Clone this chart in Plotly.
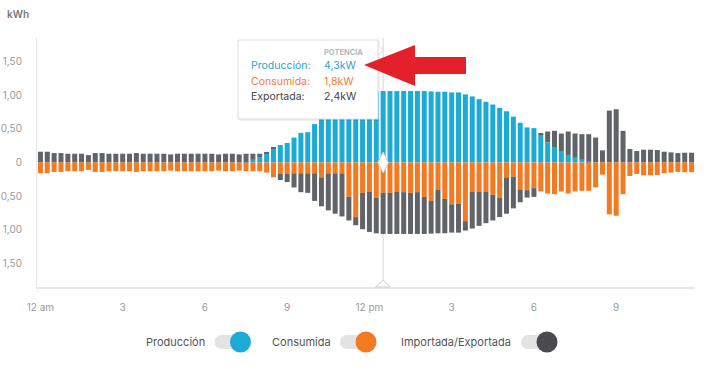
import plotly.graph_objects as go

# 15-minute slots, index 0 = 00:00 ... 95 = 23:45 (kWh per slot)
slots = list(range(96))

produccion = (
    [0] * 12 +
    [0] * 12 +
    [0, 0, 0, 0, 0, 0, 0.01, 0.04, 0.08, 0.14, 0.21, 0.26] +
    [0.29, 0.37, 0.44, 0.45, 0.57, 0.65, 0.71, 0.76, 0.80, 0.86, 0.93, 0.99] +
    [1.03, 1.05, 1.06, 1.06, 1.06, 1.06, 1.06, 1.06, 1.06, 1.055, 1.05, 1.05] +
    [1.04, 1.04, 1.01, 0.98, 0.94, 0.90, 0.86, 0.81, 0.76, 0.68, 0.59, 0.52] +
    [0.51, 0.41, 0.30, 0.23, 0.16, 0.11, 0.07, 0.04, 0.02, 0, 0, 0] +
    [0] * 12
)

consumida = (
    [0.16, 0.16, 0.14, 0.14, 0.13, 0.13, 0.13, 0.11, 0.14, 0.14, 0.13, 0.13] +
    [0.13, 0.13, 0.14, 0.13, 0.13, 0.13, 0.13, 0.12, 0.13, 0.13, 0.13, 0.13] +
    [0.13, 0.13, 0.12, 0.13, 0.13, 0.12, 0.13, 0.13, 0.13, 0.15, 0.22, 0.17] +
    [0.17, 0.16, 0.16, 0.16, 0.16, 0.22, 0.16, 0.16, 0.16, 0.51, 0.81, 0.45] +
    [0.43, 0.52, 0.45, 0.45, 0.43, 0.44, 0.45, 0.44, 0.51, 0.57, 0.40, 0.54] +
    [0.62, 0.61, 0.87, 0.43, 0.43, 0.43, 0.48, 0.52, 0.22, 0.21, 0.40, 0.41] +
    [0.38, 0.43, 0.46, 0.47, 0.43, 0.46, 0.43, 0.42, 0.42, 0.37, 0.18, 0.77] +
    [0.79, 0.47, 0.20, 0.17, 0.19, 0.19, 0.185, 0.16, 0.15, 0.14, 0.145, 0.145]
)

importada = (
    [0.16, 0.16, 0.14, 0.14, 0.13, 0.13, 0.13, 0.11, 0.14, 0.14, 0.13, 0.13] +
    [0.13, 0.13, 0.14, 0.13, 0.13, 0.13, 0.13, 0.12, 0.13, 0.13, 0.13, 0.13] +
    [0.13, 0.13, 0.12, 0.13, 0.13, 0.12, 0.12, 0.09, 0.05, 0.01, 0.01, 0] +
    [0] * 12 +
    [0] * 12 +
    [0] * 12 +
    [0, 0.02, 0.16, 0.24, 0.27, 0.35, 0.36, 0.38, 0.40, 0.37, 0.18, 0.77] +
    [0.79, 0.47, 0.20, 0.17, 0.19, 0.19, 0.185, 0.16, 0.15, 0.14, 0.145, 0.145]
)

exportada = (
    [0] * 12 +
    [0] * 12 +
    [0, 0, 0, 0, 0, 0, 0, 0, 0, 0, 0, 0.09] +
    [0.12, 0.21, 0.28, 0.29, 0.41, 0.43, 0.55, 0.60, 0.64, 0.35, 0.12, 0.54] +
    [0.60, 0.53, 0.61, 0.61, 0.63, 0.62, 0.61, 0.62, 0.55, 0.485, 0.65, 0.51] +
    [0.42, 0.43, 0.14, 0.55, 0.51, 0.47, 0.38, 0.29, 0.54, 0.47, 0.19, 0.11] +
    [0.13, 0, 0, 0, 0, 0, 0, 0, 0, 0, 0, 0] +
    [0] * 12
)

for arr in (produccion, consumida, importada, exportada):
    assert len(arr) == 96

x_tickvals = [0, 12, 24, 36, 48, 60, 72, 84]
x_ticktext = ["12 am", "3", "6", "9", "12 pm", "3", "6", "9"]
y_tickvals = [-1.5, -1.0, -0.5, 0, 0.5, 1.0, 1.5]
y_ticktext = ["1,50", "1,00", "0,50", "0", "0,50", "1,00", "1,50"]

hover_slot = 50
tooltip_rows = [("Producción:", "4,3kW"), ("Consumida:", "1,8kW"), ("Exportada:", "2,4kW")]
legend_items = ["Producción", "Consumida", "Importada/Exportada"]

BLUE = "#1caad6"
ORANGE = "#f47a22"
GRAY = "#606368"
DARK = "#4a4a4f"
FONT = "Inter"

W, H = 707, 374
L, R, T, B = 37, 12, 38, 87
PW, PH = W - L - R, H - T - B


def px(x):
    return (x - L) / PW


def py(y):
    return (H - B - y) / PH


fig = go.Figure()
fig.add_trace(go.Bar(x=slots, y=produccion, marker_color=BLUE, name="Producción"))
fig.add_trace(go.Bar(x=slots, y=importada, marker_color=GRAY, name="Importada"))
fig.add_trace(go.Bar(x=slots, y=[-v for v in consumida], marker_color=ORANGE, name="Consumida"))
fig.add_trace(go.Bar(x=slots, y=[-v for v in exportada], marker_color=GRAY, name="Exportada"))
fig.update_traces(marker_line_width=0)

# hover diamond at zero
fig.add_trace(go.Scatter(x=[hover_slot], y=[0], mode="markers",
                         marker=dict(symbol="diamond-tall", size=15, color="white",
                                     line=dict(color="#d0d0d0", width=1)),
                         showlegend=False, hoverinfo="skip"))

shapes = []
# hover vertical line
shapes.append(dict(type="line", xref="x", yref="paper", x0=hover_slot, x1=hover_slot,
                   y0=0, y1=1, line=dict(color="#d6d6d6", width=1), layer="below"))
# triangle on bottom axis
shapes.append(dict(type="path", xref="paper", yref="paper",
                   path=f"M {px(375.5)} {py(287)} L {px(383)} {py(280)} L {px(390.5)} {py(287)} Z",
                   fillcolor="white", line=dict(color="#cfcfcf", width=1), layer="above"))
# tooltip shadow + box
shapes.append(dict(type="rect", xref="paper", yref="paper",
                   x0=px(239), x1=px(380), y0=py(121), y1=py(41),
                   fillcolor="rgba(0,0,0,0.06)", line=dict(width=0), layer="above"))
shapes.append(dict(type="rect", xref="paper", yref="paper",
                   x0=px(238), x1=px(378), y0=py(119), y1=py(40),
                   fillcolor="white", line=dict(color="#dedede", width=1), layer="above"))
shapes.append(dict(type="path", xref="paper", yref="paper",
                   path=f"M {px(378)} {py(45)} L {px(383)} {py(50)} L {px(378)} {py(55)} Z",
                   fillcolor="white", line=dict(color="#dedede", width=1), layer="above"))
# red arrow
arrow_pts = [(364, 65), (415, 45), (415, 57), (466, 57), (466, 74), (415, 74), (415, 86)]
arrow_path = "M " + " L ".join(f"{px(a)} {py(b)}" for a, b in arrow_pts) + " Z"
shapes.append(dict(type="path", xref="paper", yref="paper", path=arrow_path,
                   fillcolor="#e4202a", line=dict(width=0), layer="above"))

# custom legend toggles
legend_text_right = [207, 333, 513]
legend_circle_cx = [240.5, 366, 547]
legend_colors = [BLUE, ORANGE, DARK]
ly = 342
for cx, col in zip(legend_circle_cx, legend_colors):
    shapes.append(dict(type="circle", xref="paper", yref="paper",
                       x0=px(cx - 26), x1=px(cx - 12), y0=py(ly + 7), y1=py(ly - 7),
                       fillcolor="#e3e3e3", line=dict(width=0)))
    shapes.append(dict(type="rect", xref="paper", yref="paper",
                       x0=px(cx - 19), x1=px(cx), y0=py(ly + 7), y1=py(ly - 7),
                       fillcolor="#e3e3e3", line=dict(width=0)))
    shapes.append(dict(type="circle", xref="paper", yref="paper",
                       x0=px(cx - 10.5), x1=px(cx + 10.5), y0=py(ly + 10.5), y1=py(ly - 10.5),
                       fillcolor=col, line=dict(width=0)))

annotations = []
for name, xr in zip(legend_items, legend_text_right):
    annotations.append(dict(text=name, x=px(xr), y=py(ly), xref="paper", yref="paper",
                            xanchor="right", yanchor="middle", showarrow=False,
                            font=dict(family=FONT, size=11, color="#555555")))

annotations.append(dict(text="kWh", x=px(5), y=py(14), xref="paper", yref="paper",
                        xanchor="left", yanchor="middle", showarrow=False,
                        font=dict(family=FONT, size=10, color="#777777", weight=600)))

# tooltip text
annotations.append(dict(text="POTENCIA", x=px(322), y=py(53), xref="paper", yref="paper",
                        xanchor="left", yanchor="middle", showarrow=False,
                        font=dict(family=FONT, size=7.5, color="#b4b8c0", weight=700)))
row_colors = ["#2aa5cf", "#ee7d3b", "#444444"]
row_y = [66, 81.5, 96.5]
for (lab, val), col, yy in zip(tooltip_rows, row_colors, row_y):
    annotations.append(dict(text=lab, x=px(249), y=py(yy), xref="paper", yref="paper",
                            xanchor="left", yanchor="middle", showarrow=False,
                            font=dict(family=FONT, size=10.5, color=col)))
    annotations.append(dict(text=val, x=px(322), y=py(yy), xref="paper", yref="paper",
                            xanchor="left", yanchor="middle", showarrow=False,
                            font=dict(family=FONT, size=10.5, color=col)))

fig.update_layout(
    width=W, height=H,
    margin=dict(l=L, r=R, t=T, b=B, pad=0, autoexpand=False),
    barmode="relative",
    bargap=0.27,
    plot_bgcolor="white",
    paper_bgcolor="white",
    showlegend=False,
    shapes=shapes,
    annotations=annotations,
    font=dict(family=FONT, color="#999999", size=10),
    xaxis=dict(range=[-0.5, 95.5], tickvals=x_tickvals, ticktext=x_ticktext,
               showgrid=False, zeroline=False, showline=True, linecolor="#e6e6e6",
               linewidth=2, ticks="", ticklabelstandoff=10, automargin=False,
               tickfont=dict(family=FONT, size=10, color="#9a9a9a"), fixedrange=True),
    yaxis=dict(range=[-1.847, 1.847], tickvals=y_tickvals, ticktext=y_ticktext,
               showgrid=False, zeroline=False, showline=True, linecolor="#e6e6e6",
               linewidth=1, ticks="", ticklabelstandoff=12, automargin=False,
               tickfont=dict(family=FONT, size=10, color="#9a9a9a"), fixedrange=True),
    hovermode=False,
)

fig.write_html("out.html", config={"displayModeBar": False},
               post_script="document.body.style.margin='0';")
